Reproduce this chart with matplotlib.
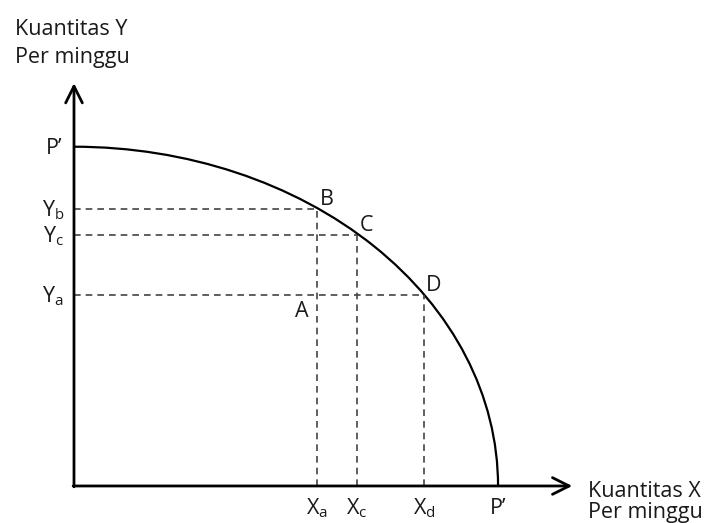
import matplotlib.pyplot as plt
from matplotlib.patches import Arc

plt.rcParams['font.family'] = ['Open Sans', 'DejaVu Sans']
plt.rcParams['mathtext.fontset'] = 'custom'
plt.rcParams['mathtext.rm'] = 'Open Sans'

# frontier intercepts
px_max = 10.0
py_max = 8.0

# points on the frontier (x, y)
point_names = ['B', 'C', 'D']
point_x = [5.73, 6.67, 8.25]
point_y = [6.53, 5.92, 4.50]

# tick labels on the axes
x_tick_labels = [r'X$_\mathregular{a}$', r'X$_\mathregular{c}$', r'X$_\mathregular{d}$']
y_tick_labels = [r'Y$_\mathregular{b}$', r'Y$_\mathregular{c}$', r'Y$_\mathregular{a}$']

# point A sits inside the frontier
a_x = 5.73
a_y = 4.50

fig = plt.figure(figsize=(7.16, 5.23), dpi=100)
ax = fig.add_axes([0, 0, 1, 1])
ax.set_xlim(-1.745, 15.14)
ax.set_ylim(-0.873, 11.46)
ax.axis('off')

# axes with arrows
arrow = dict(arrowstyle='->', lw=2.0, color='black', mutation_scale=30, shrinkA=0, shrinkB=0)
ax.annotate('', xy=(0, 9.5), xytext=(0, -0.02), arrowprops=arrow)
ax.annotate('', xy=(11.75, 0), xytext=(-0.02, 0), arrowprops=arrow)

# production possibility frontier
ax.add_patch(Arc((0, 0), 2 * px_max, 2 * py_max, theta1=0, theta2=90, lw=1.6, color='black'))

# dashed guides
dash = dict(color='#444444', lw=1.2, ls=(0, (4, 3)))
for x, y in zip(point_x, point_y):
    ax.plot([0, x], [y, y], **dash)
    ax.plot([x, x], [0, y], **dash)

fs = 15.5
tc = '#1a1a1a'
# point labels
for name, x, y in zip(point_names, point_x, point_y):
    ax.annotate(name, (x, y), xytext=(7, 7), textcoords='offset points', fontsize=fs, ha='center', va='center', color=tc)
ax.annotate('A', (a_x, a_y), xytext=(-11, -12), textcoords='offset points', fontsize=fs, ha='center', va='center', color=tc)

# axis tick labels
for lab, x in zip(x_tick_labels, point_x):
    ax.annotate(lab, (x, 0), xytext=(0, -16), textcoords='offset points', fontsize=fs, ha='center', va='center', color=tc)
for lab, y in zip(y_tick_labels, point_y):
    ax.annotate(lab, (0, y), xytext=(-15, -1), textcoords='offset points', fontsize=fs, ha='center', va='center', color=tc)

ax.annotate('P\u2019', (px_max, 0), xytext=(0, -16), textcoords='offset points', fontsize=fs, ha='center', va='center', color=tc)
ax.annotate('P\u2019', (0, py_max), xytext=(-14, -1), textcoords='offset points', fontsize=fs, ha='center', va='center', color=tc)

# axis titles
ax.text(-1.39, 10.64, 'Kuantitas Y', fontsize=fs, ha='left', va='baseline', color=tc)
ax.text(-1.39, 9.98, 'Per minggu', fontsize=fs, ha='left', va='baseline', color=tc)
ax.text(12.12, -0.26, 'Kuantitas X', fontsize=fs, ha='left', va='baseline', color=tc)
ax.text(12.12, -0.755, 'Per minggu', fontsize=fs, ha='left', va='baseline', color=tc)

fig.savefig('out.png', dpi=100)
